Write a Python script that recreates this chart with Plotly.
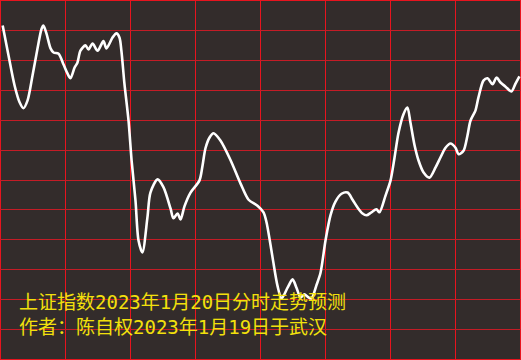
import plotly.graph_objects as go

# minutes since open (0..240) and index value
minutes = [1, 3.7, 6.5, 8.8, 10.6, 12.5, 14.8, 17.1, 18.9, 19.8, 21.2, 23.1, 24.5, 26.8, 29.1,
           30.9, 32.3, 34.2, 35.5, 36.9, 39.2, 40.6, 42.5, 44.8, 47.5, 48.9, 51.7, 53.5, 54.9,
           55.8, 57.2, 59.1, 60.5, 62.3, 63.7, 65.5, 67.8, 69.2, 72.5, 75.2, 78.5, 79.8, 81.7,
           83.1, 84.9, 87.7, 91.8, 93.2, 94.6, 96.5, 98.3, 101.5, 106.2, 110.8, 114.5, 118.6,
           121.4, 122.8, 125.5, 127.8, 129.7, 132.5, 134.8, 136.6, 138.5, 140.3, 141.7, 143.5,
           145.8, 147.7, 150.0, 152.3, 154.6, 157.4, 160.2, 162.5, 164.8, 167.1, 168.9, 171.2,
           173.5, 174.9, 177.7, 180.0, 181.8, 183.7, 186.0, 187.8, 189.2, 191.1, 192.9, 195.2,
           198.0, 200.8, 203.1, 205.4, 207.7, 210.0, 211.4, 213.7, 215.5, 216.9, 219.2, 220.6,
           222.9, 224.8, 227.1, 228.9, 230.8, 233.1, 235.8, 237.7, 239.5]
values = [3255.8, 3250.8, 3245.8, 3243.0, 3242.0, 3243.3, 3247.5, 3252.0, 3255.2, 3255.8,
          3254.5, 3252.0, 3251.3, 3251.1, 3249.3, 3247.8, 3247.0, 3248.8, 3249.6, 3251.6,
          3252.5, 3251.8, 3252.8, 3251.6, 3253.2, 3252.0, 3253.8, 3254.5, 3253.8, 3251.6,
          3246.1, 3239.9, 3233.3, 3226.6, 3219.9, 3217.9, 3223.7, 3227.9, 3230.1, 3228.8,
          3225.2, 3223.6, 3224.4, 3223.4, 3225.6, 3227.9, 3229.9, 3232.3, 3235.3, 3237.1,
          3237.8, 3236.6, 3233.3, 3229.4, 3226.7, 3225.7, 3224.6, 3222.9, 3217.2, 3212.4,
          3210.2, 3212.0, 3213.4, 3212.0, 3210.4, 3210.9, 3210.5, 3210.2, 3212.4, 3214.5,
          3219.9, 3224.1, 3226.4, 3227.7, 3227.9, 3226.7, 3225.4, 3224.4, 3224.1, 3224.6,
          3225.1, 3224.6, 3227.4, 3229.9, 3233.6, 3237.9, 3241.0, 3242.1, 3239.6, 3235.8,
          3233.3, 3231.3, 3230.4, 3232.1, 3233.8, 3235.4, 3236.1, 3235.4, 3234.3, 3234.9,
          3237.4, 3239.9, 3241.6, 3243.8, 3246.6, 3247.0, 3246.0, 3247.1, 3246.3, 3245.6,
          3244.8, 3246.1, 3247.3]

x_grid = [0, 30, 60, 90, 120, 150, 180, 210, 240]
y_grid = [3200, 3205, 3210, 3215, 3220, 3225, 3230, 3235, 3240, 3245, 3250, 3255, 3260]

title_line1 = "上证指数2023年1月20日分时走势预测"
title_line2 = "作者：陈自权2023年1月19日于武汉"

W, H = 521, 360
BG = "#332c2b"
V_RED = "#e8141e"
H_RED = "#c41c26"

fig = go.Figure()
fig.add_trace(go.Scatter(x=minutes, y=values, mode="lines",
                         line=dict(color="white", width=2.6, shape="spline", smoothing=0.8),
                         hoverinfo="skip"))

# grid drawn as crisp pixel-aligned lines (paper coordinates)
shapes = []
for i, _ in enumerate(x_grid):
    px = 65 * i + 0.5
    shapes.append(dict(type="line", xref="paper", yref="paper", layer="below",
                       x0=px / W, x1=px / W, y0=0, y1=1,
                       line=dict(color=V_RED, width=1)))
n = len(y_grid) - 1
for i, _ in enumerate(y_grid):
    py = round(i * 359 / n) + 0.5
    shapes.append(dict(type="line", xref="paper", yref="paper", layer="below",
                       x0=0, x1=1, y0=1 - py / H, y1=1 - py / H,
                       line=dict(color=V_RED if i in (0, n) else H_RED, width=1)))

fig.update_layout(
    width=W, height=H,
    margin=dict(l=0, r=0, t=0, b=0),
    paper_bgcolor=BG, plot_bgcolor=BG,
    showlegend=False,
    shapes=shapes,
    xaxis=dict(range=[-0.23, 240.23], showgrid=False, zeroline=False,
               showticklabels=False, ticks="", showline=False, fixedrange=True),
    yaxis=dict(range=[3199.92, 3260.08], showgrid=False, zeroline=False,
               showticklabels=False, ticks="", showline=False, fixedrange=True),
    annotations=[
        dict(text=title_line1 + "<br>" + title_line2, xref="paper", yref="paper",
             x=17 / W, y=1 - 314.5 / H, xanchor="left", yanchor="middle", align="left",
             showarrow=False,
             font=dict(family="DejaVu Sans Mono, Noto Sans CJK SC", size=19, color="#f2e00c")),
    ],
)

fig.write_html("out.html", config={"displayModeBar": False})
